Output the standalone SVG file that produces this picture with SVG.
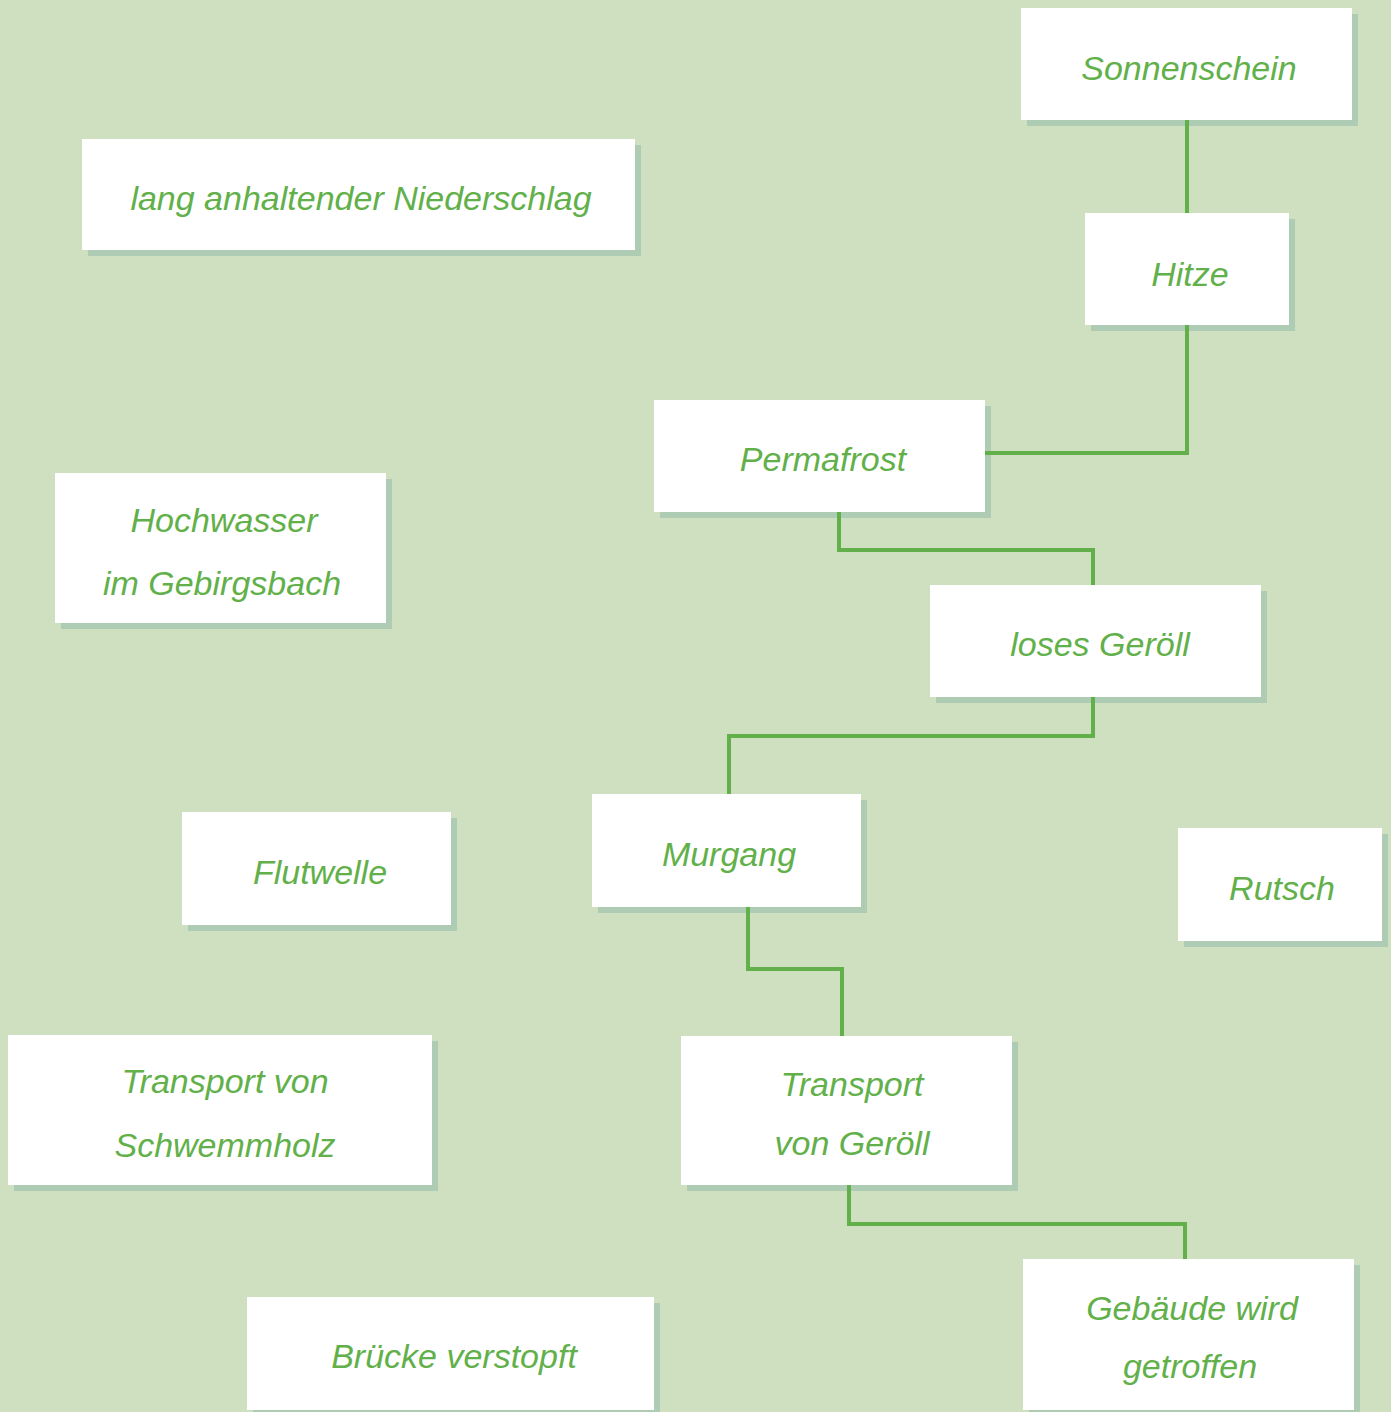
<svg xmlns="http://www.w3.org/2000/svg" width="1391" height="1412" viewBox="0 0 1391 1412">
<style>
.sh{fill:#aecbb4}
.bx{fill:#ffffff}
.t{font-family:"Liberation Sans",Arial,sans-serif;font-style:italic;font-size:34px;fill:#62b04a;text-anchor:middle}
.c{fill:none;stroke:#62b04a;stroke-width:4}
</style>
<rect width="1391" height="1412" fill="#cfe0c0"/>
<g id="sonnenschein"><rect class="sh" x="1027" y="14" width="331" height="112"/><rect class="bx" x="1021" y="8" width="331" height="112"/><text class="t" x="1189" y="80">Sonnenschein</text></g>
<g id="niederschlag"><rect class="sh" x="88" y="145" width="553" height="111"/><rect class="bx" x="82" y="139" width="553" height="111"/><text class="t" x="361" y="210">lang anhaltender Niederschlag</text></g>
<g id="hitze"><rect class="sh" x="1091" y="219" width="204" height="112"/><rect class="bx" x="1085" y="213" width="204" height="112"/><text class="t" x="1190" y="286">Hitze</text></g>
<g id="permafrost"><rect class="sh" x="660" y="406" width="331" height="112"/><rect class="bx" x="654" y="400" width="331" height="112"/><text class="t" x="823" y="471">Permafrost</text></g>
<g id="hochwasser"><rect class="sh" x="61" y="479" width="331" height="150"/><rect class="bx" x="55" y="473" width="331" height="150"/><text class="t" x="224" y="532">Hochwasser</text><text class="t" x="222" y="595">im Gebirgsbach</text></g>
<g id="geroell"><rect class="sh" x="936" y="591" width="331" height="112"/><rect class="bx" x="930" y="585" width="331" height="112"/><text class="t" x="1100" y="656">loses Geröll</text></g>
<g id="murgang"><rect class="sh" x="598" y="800" width="269" height="113"/><rect class="bx" x="592" y="794" width="269" height="113"/><text class="t" x="729" y="866">Murgang</text></g>
<g id="flutwelle"><rect class="sh" x="188" y="818" width="269" height="113"/><rect class="bx" x="182" y="812" width="269" height="113"/><text class="t" x="320" y="884">Flutwelle</text></g>
<g id="rutsch"><rect class="sh" x="1184" y="834" width="204" height="113"/><rect class="bx" x="1178" y="828" width="204" height="113"/><text class="t" x="1282" y="900">Rutsch</text></g>
<g id="schwemmholz"><rect class="sh" x="14" y="1041" width="424" height="150"/><rect class="bx" x="8" y="1035" width="424" height="150"/><text class="t" x="225" y="1093">Transport von</text><text class="t" x="225" y="1157">Schwemmholz</text></g>
<g id="transport-geroell"><rect class="sh" x="687" y="1042" width="331" height="149"/><rect class="bx" x="681" y="1036" width="331" height="149"/><text class="t" x="852" y="1096">Transport</text><text class="t" x="852" y="1155">von Geröll</text></g>
<g id="bruecke"><rect class="sh" x="253" y="1303" width="407" height="113"/><rect class="bx" x="247" y="1297" width="407" height="113"/><text class="t" x="454" y="1368">Brücke verstopft</text></g>
<g id="gebaeude"><rect class="sh" x="1029" y="1265" width="331" height="151"/><rect class="bx" x="1023" y="1259" width="331" height="151"/><text class="t" x="1192" y="1320">Gebäude wird</text><text class="t" x="1190" y="1378">getroffen</text></g>
<g id="connectors">
<path class="c" d="M1187 120V213"/>
<path class="c" d="M1187 325V453H985"/>
<path class="c" d="M839 512V550H1093V585"/>
<path class="c" d="M1093 697V736H729V794"/>
<path class="c" d="M748 907V969H842V1036"/>
<path class="c" d="M849 1185V1224H1185V1259"/>
</g>
</svg>
